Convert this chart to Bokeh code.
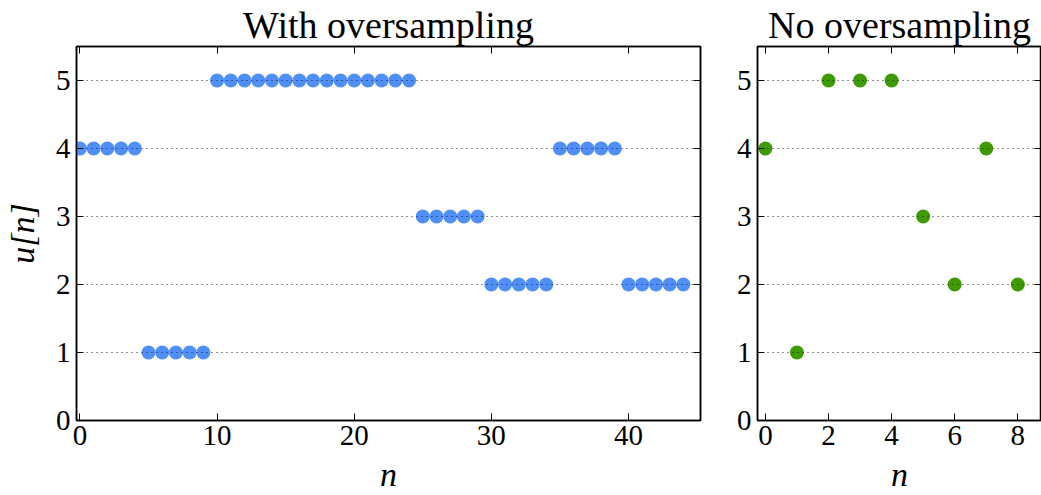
from bokeh.plotting import figure
from bokeh.layouts import row
from bokeh.models import Range1d, LinearAxis, FixedTicker
from bokeh.embed import file_html
from bokeh.resources import INLINE

# ---- data ----
n_over = [0, 1, 2, 3, 4, 5, 6, 7, 8, 9, 10, 11, 12, 13, 14, 15, 16, 17, 18, 19, 20, 21,
          22, 23, 24, 25, 26, 27, 28, 29, 30, 31, 32, 33, 34, 35, 36, 37, 38, 39, 40,
          41, 42, 43, 44]
u_over = [4, 4, 4, 4, 4, 1, 1, 1, 1, 1, 5, 5, 5, 5, 5, 5, 5, 5, 5, 5, 5, 5, 5, 5, 5,
          3, 3, 3, 3, 3, 2, 2, 2, 2, 2, 4, 4, 4, 4, 4, 2, 2, 2, 2, 2]
n_plain = [0, 1, 2, 3, 4, 5, 6, 7, 8]
u_plain = [4, 1, 5, 5, 5, 3, 2, 4, 2]

y_ticks = [0, 1, 2, 3, 4, 5]
x_ticks_over = [0, 10, 20, 30, 40]
x_ticks_plain = [0, 2, 4, 6, 8]

FONT = "Liberation Serif"
H = 495
FRAME_TOP = 44
FRAME_H = 377


def style_axis(ax, show_labels=True):
    ax.major_tick_in = 7
    ax.major_tick_out = 0
    ax.minor_tick_in = 0
    ax.minor_tick_out = 0
    ax.axis_line_color = "black"
    ax.axis_line_width = 1.5
    ax.major_tick_line_color = "black"
    ax.major_tick_line_width = 1
    ax.major_label_text_font = FONT
    ax.major_label_text_color = "black"
    ax.major_label_text_line_height = 1.0
    if show_labels:
        ax.major_label_text_font_size = "29px"
    else:
        ax.major_label_text_font_size = "0px"
        ax.major_label_standoff = 0


def make(title, xs, ys, color, xr, xticks, width, bl, br, ylabel):
    p = figure(width=width, height=H, x_range=Range1d(*xr), y_range=Range1d(0, 5.5),
               output_backend="svg", toolbar_location=None, title=title,
               min_border_left=bl, min_border_right=br, min_border_top=FRAME_TOP,
               min_border_bottom=H - FRAME_TOP - FRAME_H)
    p.outline_line_color = "black"
    p.outline_line_width = 1.5
    p.background_fill_color = "white"
    p.border_fill_color = "white"

    p.title.align = "center"
    p.title.text_font = FONT
    p.title.text_font_size = "38px"
    p.title.text_font_style = "normal"
    p.title.text_color = "black"
    p.title.standoff = 2

    p.xaxis.ticker = FixedTicker(ticks=xticks)
    p.yaxis.ticker = FixedTicker(ticks=y_ticks)
    for ax in p.xaxis + p.yaxis:
        style_axis(ax)
    p.xaxis.major_label_standoff = 5
    p.yaxis.major_label_standoff = 6

    p.xaxis.axis_label = "n"
    p.xaxis.axis_label_text_font = FONT
    p.xaxis.axis_label_text_font_style = "italic"
    p.xaxis.axis_label_text_font_size = "34px"
    p.xaxis.axis_label_text_color = "black"
    p.xaxis.axis_label_text_line_height = 1.0
    p.xaxis.axis_label_standoff = 8

    top = LinearAxis(ticker=FixedTicker(ticks=xticks),
                     major_label_overrides={t: "" for t in xticks})
    style_axis(top, False)
    p.add_layout(top, "above")
    right = LinearAxis(ticker=FixedTicker(ticks=y_ticks),
                       major_label_overrides={t: "" for t in y_ticks})
    style_axis(right, False)
    p.add_layout(right, "right")

    p.xgrid.visible = False
    p.ygrid.ticker = FixedTicker(ticks=[1, 2, 3, 4, 5])
    p.ygrid.grid_line_color = "#222222"
    p.ygrid.grid_line_width = 1
    p.ygrid.grid_line_dash = "1 4"
    p.ygrid.level = "overlay"

    p.scatter(xs, ys, marker="circle", size=14, fill_color=color, line_color=None)

    if ylabel:
        p.yaxis[0].axis_label = ylabel
        p.yaxis[0].axis_label_text_font = FONT
        p.yaxis[0].axis_label_text_font_style = "italic"
        p.yaxis[0].axis_label_text_font_size = "34px"
        p.yaxis[0].axis_label_text_color = "black"
        p.yaxis[0].axis_label_standoff = 12
    return p


p1 = make("With oversampling", n_over, u_over, "#4f8ff7", (-0.25, 45.25),
          x_ticks_over, 720, 76, 20, "u[n]")
p2 = make("No oversampling", n_plain, u_plain, "#3d9a01", (-0.25, 8.75),
          x_ticks_plain, 321, 37, 0, None)

layout = row(p1, p2)
open("out.html", "w").write(file_html(layout, INLINE))
